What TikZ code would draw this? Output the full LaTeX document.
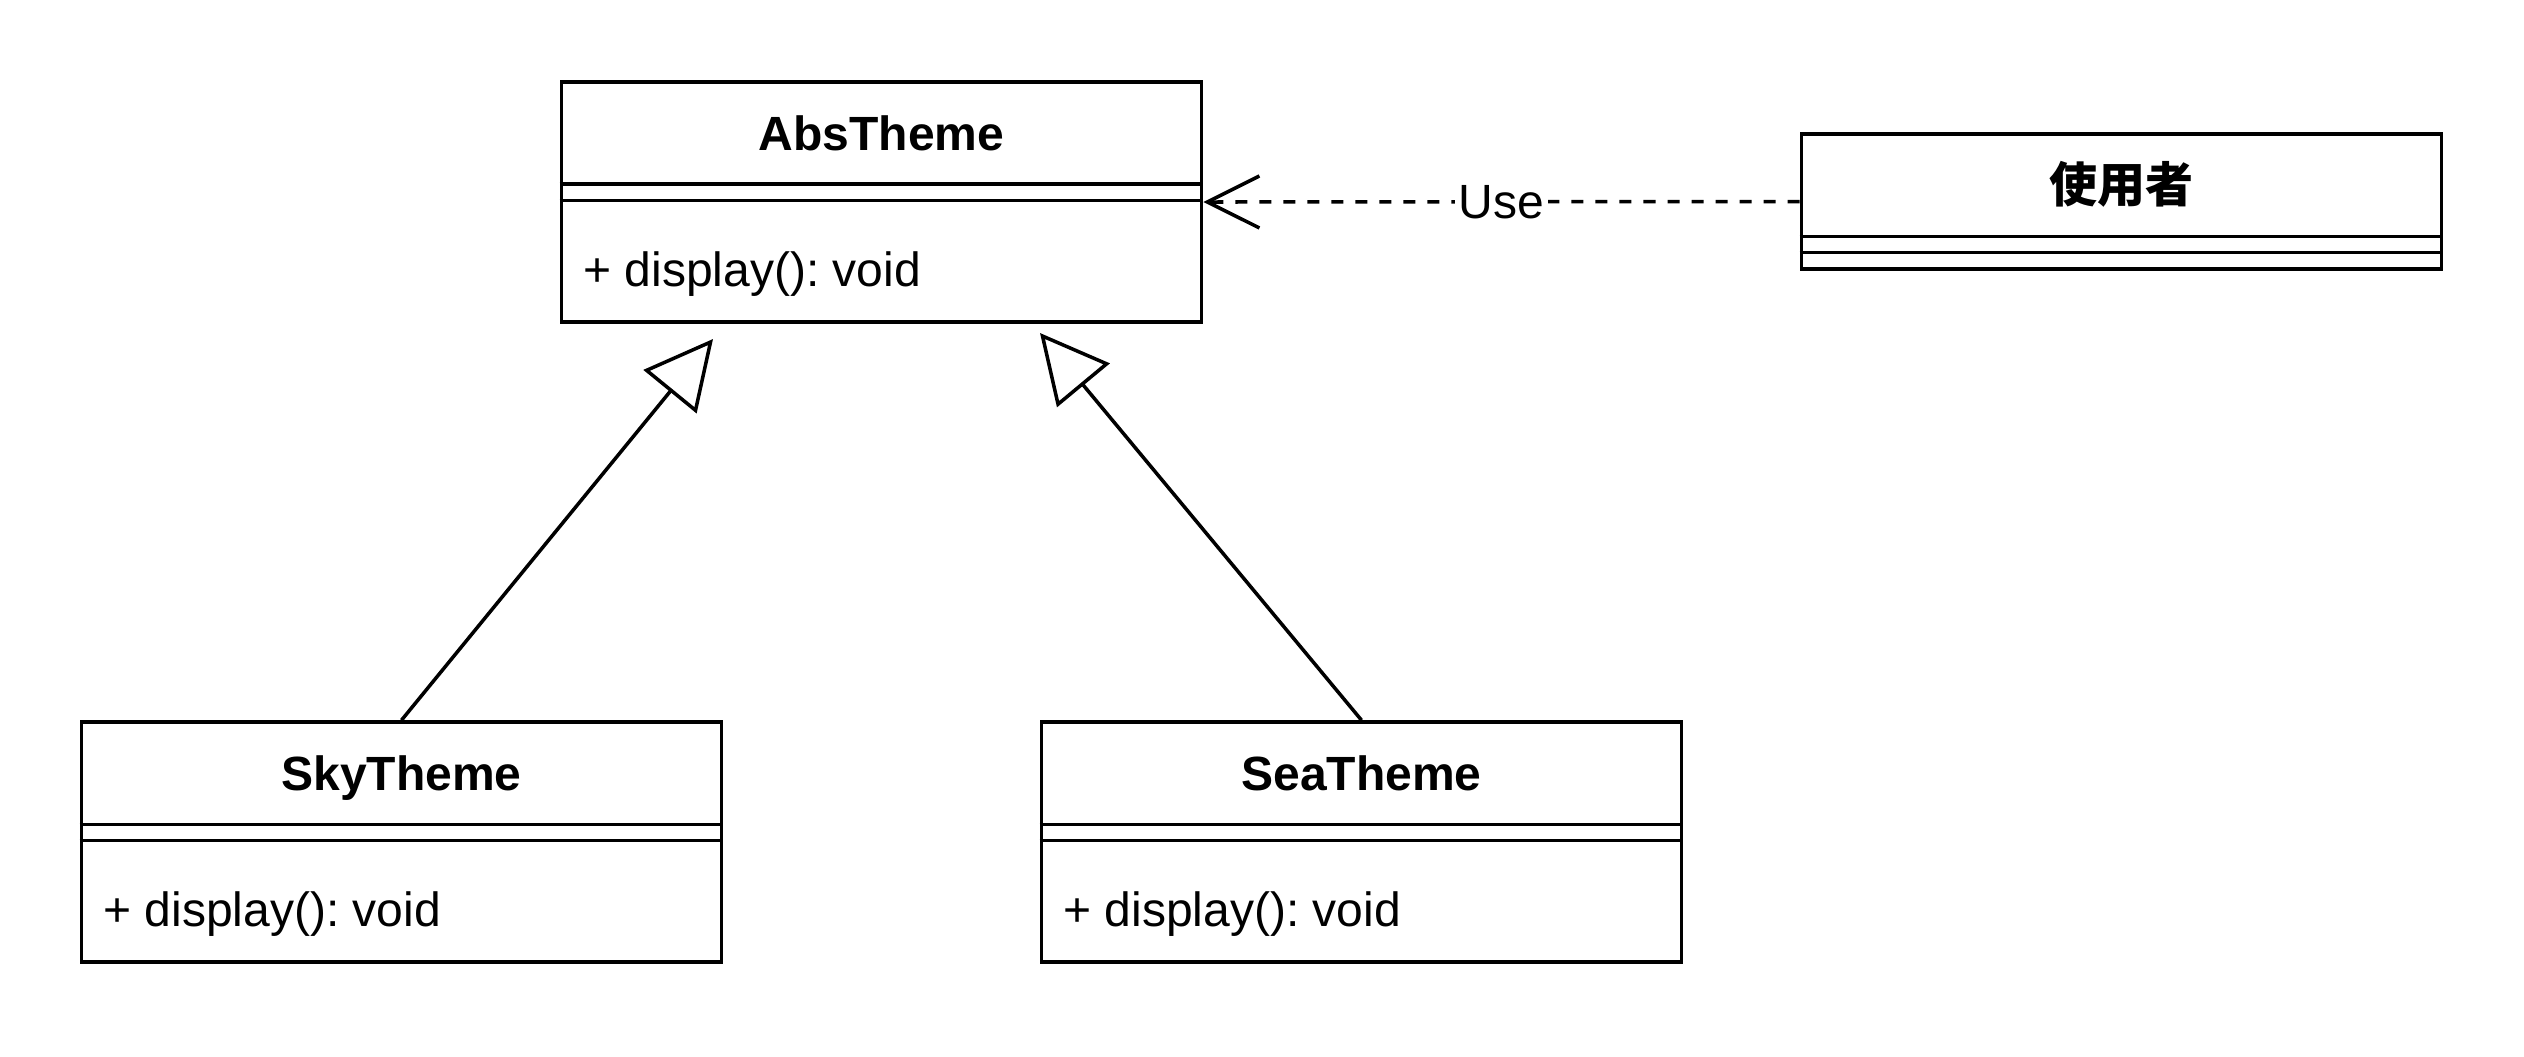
\documentclass[tikz,border=0pt]{standalone}
\usepackage{fontspec}
\setmainfont{Liberation Sans}
\newfontfamily\cjkfont{Noto Sans CJK TC}
\usetikzlibrary{arrows.meta}
\frenchspacing

\tikzset{
	classbox/.style={draw, fill=white, minimum width=6.4cm, inner sep=0pt},
	classtitle/.style={font=\fontsize{13.66pt}{16pt}\selectfont\bfseries, anchor=base, inner sep=0pt},
	classop/.style={font=\fontsize{13.66pt}{16pt}\selectfont, anchor=base west, inner sep=0pt},
	inherit/.style={-{Triangle[open, length=0.68cm, width=0.68cm]}},
	uses/.style={dash pattern=on 0.12cm off 0.12cm, -{Straight Barb[length=0.52cm, width=0.52cm]}},
}

\begin{document}
\begin{tikzpicture}[x=0.01cm, y=-0.01cm, line width=1pt]
		\useasboundingbox (0, 0) rectangle (2524, 1056);
		\foreach \cls/\cx/\cy/\ctitle in {abs/881.5/202/AbsTheme, sky/401.5/842/SkyTheme, sea/1361.5/842/SeaTheme}{
			\node[classbox, minimum height=2.4cm] (\cls) at (\cx, \cy) {};
			\node[classtitle] (\cls-title) at ([yshift=-0.7cm]\cls.north) {\ctitle};
			\draw ([yshift=-1.04cm]\cls.north west) -- ([yshift=-1.04cm]\cls.north east);
			\draw ([yshift=-1.2cm]\cls.north west) -- ([yshift=-1.2cm]\cls.north east);
			\node[classop] (\cls-op) at ([xshift=0.22cm, yshift=-2.06cm]\cls.north west) {+ display(): void};
		}
		\node[classbox, minimum height=1.35cm] (user) at (2121.5, 201.5) {};
		\node[classtitle] (user-title) at ([yshift=-0.7cm]user.north) {\cjkfont\bfseries 使用者};
		\draw ([yshift=-1.04cm]user.north west) -- ([yshift=-1.04cm]user.north east);
		\draw ([yshift=-1.2cm]user.north west) -- ([yshift=-1.2cm]user.north east);
		\coordinate (sky-head) at (713, 339);
		\coordinate (sea-head) at (1040, 333);
		\draw[inherit] (sky.north) -- (sky-head);
		\draw[inherit] (sea.north) -- (sea-head);
		\draw[uses] (user.west) -- node[fill=white, inner sep=1pt, font=\fontsize{13.66pt}{16pt}\selectfont] (use-label) {Use} (abs.east);
	\end{tikzpicture}
\end{document}
